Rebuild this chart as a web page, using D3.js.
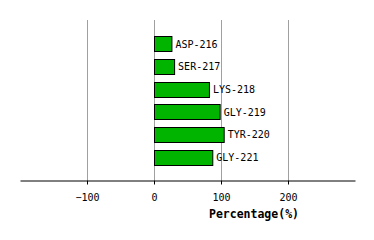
<html lang="en">
<head>
<meta charset="utf-8">
<script src="https://d3js.org/d3.v7.min.js"></script>
<style>
  body { margin: 0; background: #fff; }
  text { font-family: "DejaVu Sans Mono", monospace; font-size: 10px; fill: #000; }
</style>
</head>
<body>
<svg id="chart"></svg>
<script>
// residues and their percentages
var residues = ["ASP-216", "SER-217", "LYS-218", "GLY-219", "TYR-220", "GLY-221"];
var percents = [26, 30, 82, 98, 104, 87];
var tickValues = [-100, 0, 100, 200];

var config = { w: 374, h: 240, top: 20, bottom: 180, left: 20, right: 355 };

var svg = d3.select("#chart")
  .attr("width", config.w)
  .attr("height", config.h);

var x = d3.scaleLinear()
  .domain([-200, 300])
  .range([config.left, config.right]);

var y = d3.scaleBand()
  .domain(residues)
  .range([32.7, 168.7])
  .paddingInner(0.33)
  .paddingOuter(0.165);

// vertical grid lines
svg.append("g")
  .selectAll("line")
  .data(tickValues)
  .enter()
  .append("line")
    .attr("x1", function(d) { return Math.round(x(d)) + 0.5; })
    .attr("x2", function(d) { return Math.round(x(d)) + 0.5; })
    .attr("y1", config.top)
    .attr("y2", config.bottom)
    .style("stroke", "#a0a0a0")
    .style("stroke-width", 1);

// bars
var data = residues.map(function(r, i) { return { name: r, value: percents[i] }; });

svg.append("g")
  .selectAll("rect")
  .data(data)
  .enter()
  .append("rect")
    .attr("x", function(d) { return Math.round(x(0)) + 0.5; })
    .attr("y", function(d) { return Math.round(y(d.name)) + 0.5; })
    .attr("width", function(d) { return x(d.value) - x(0); })
    .attr("height", Math.round(y.bandwidth()))
    .style("fill", "#00b400")
    .style("stroke", "#000")
    .style("stroke-width", 1);

// labels right of bars
svg.append("g")
  .selectAll("text")
  .data(data)
  .enter()
  .append("text")
    .attr("x", function(d) { return x(d.value) + 4; })
    .attr("y", function(d) { return y(d.name) + y.bandwidth() / 2; })
    .attr("dy", "0.35em")
    .text(function(d) { return d.name; });

// x axis
var axis = d3.axisBottom(x)
  .tickValues(tickValues)
  .tickSizeInner(4)
  .tickSizeOuter(0)
  .tickPadding(9)
  .tickFormat(function(d) { return d < 0 ? "\u2212" + Math.abs(d) : d; });

var gx = svg.append("g")
  .attr("transform", "translate(0," + (config.bottom + 0.5) + ")")
  .call(axis);

gx.select(".domain").style("stroke", "#000");
gx.selectAll(".tick line").style("stroke", "#000");
gx.selectAll(".tick text")
  .style("font-family", "DejaVu Sans Mono, monospace")
  .style("font-size", "10px")
  .attr("fill", "#000");

svg.append("text")
  .attr("x", 254)
  .attr("y", 218)
  .attr("text-anchor", "middle")
  .style("font-weight", "bold")
  .style("font-size", "11.5px")
  .text("Percentage(%)");
</script>
</body>
</html>
